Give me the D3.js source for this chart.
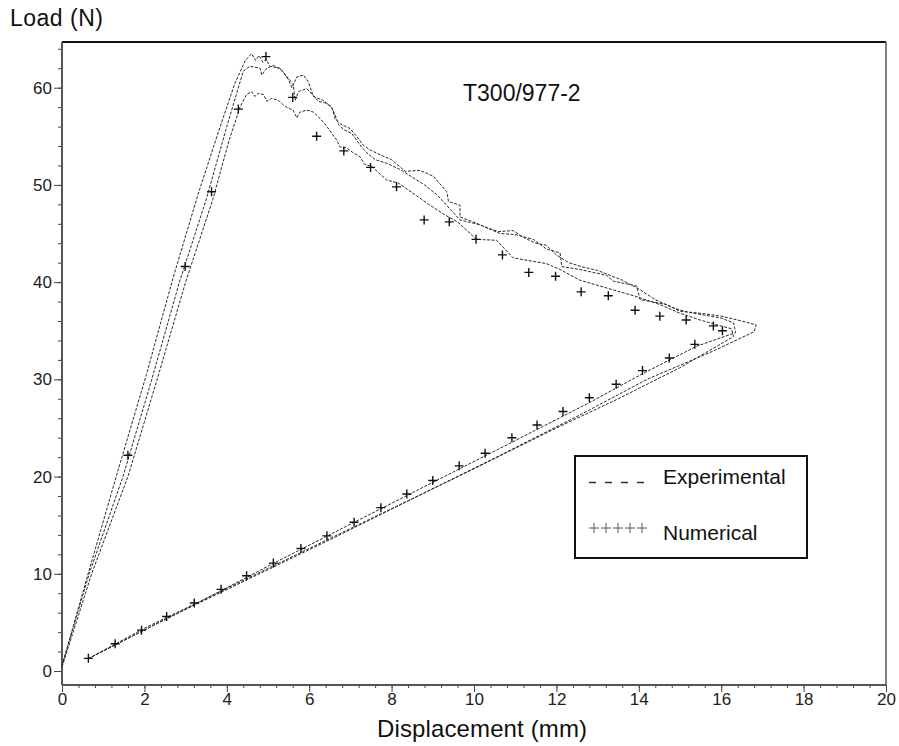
<!DOCTYPE html>
<html>

<head>
    <meta charset="utf-8">
    <title>T300/977-2 load displacement</title>
    <style>
        body {
            margin: 0;
            background: #fff;
        }

        svg {
            display: block;
            font-family: 'Liberation Sans', Arial, sans-serif;
        }

        .tick text {
            font-size: 17px;
            fill: #222;
        }

        .tick line {
            stroke: #444;
        }

        .exp-line {
            fill: none;
            stroke: #2a2a2a;
            stroke-width: 1;
            stroke-dasharray: 3, 1.5;
        }

        .num-mark {
            stroke: #111;
            stroke-width: 1.4;
        }
    </style>
</head>

<body>
    <svg width="899" height="746"></svg>
</body>
<script src="https://d3js.org/d3.v7.min.js"></script>

<script>

    // tick values
    let xTicks = [0, 2, 4, 6, 8, 10, 12, 14, 16, 18, 20];
    let yTicks = [0, 10, 20, 30, 40, 50, 60];

    // experimental specimen 1 (highest peak)
    let specimen1 = [
        [0, 0.5], [0.6, 9.5], [1.35, 20.5], [2.05, 30.5], [2.7, 40.5], [3.3, 49], [3.8, 55.5],
        [4.2, 60.5], [4.45, 62.8], [4.6, 63.5], [4.7, 62.8], [4.78, 63.3], [4.88, 62.6], [4.95, 62.9],
        [5.05, 62.2], [5.3, 62.0], [5.5, 60.8], [5.58, 60.0], [5.7, 61.1], [5.86, 61.3], [5.98, 60.6],
        [6.1, 59.1], [6.34, 58.7], [6.55, 58.0], [6.63, 56.8], [6.75, 56.3], [6.99, 55.8], [7.15, 55.0],
        [7.31, 54.1], [7.48, 53.6], [7.72, 53.1], [8.0, 52.6], [8.33, 51.4], [8.69, 51.5], [9.01, 50.9],
        [9.34, 49.3], [9.38, 48.3], [9.66, 47.9], [9.66, 46.7], [9.98, 46.2], [10.3, 45.6], [10.6, 45.2],
        [10.95, 45.3], [11.2, 44.6], [11.5, 44.0], [11.75, 43.8], [12.0, 42.8], [12.3, 42.0], [12.6, 41.6],
        [13.0, 41.2], [13.3, 40.7], [13.6, 40.2], [14.0, 39.3], [14.4, 38.2], [14.8, 37.4], [15.2, 36.9],
        [15.6, 36.6], [16.0, 36.3], [16.3, 35.8], [16.35, 34.8], [15.4, 33.4], [14.1, 30.6], [12.8, 27.6],
        [11.0, 23.7], [9.0, 19.4], [7.0, 15.1], [5.1, 11.0], [3.2, 6.8], [1.9, 4.0], [0.65, 1.3]
    ];

    // experimental specimen 2 (middle peak, furthest right)
    let specimen2 = [
        [0, 0.6], [0.66, 10], [1.48, 20], [2.18, 30], [2.85, 40], [3.5, 48.5], [4.0, 56], [4.4, 61.7],
        [4.56, 62.2], [4.81, 62.0], [4.85, 61.3], [4.97, 62.0], [5.13, 62.3], [5.33, 61.8], [5.49, 61.0],
        [5.61, 60.4], [5.66, 58.7], [5.74, 59.6], [5.94, 59.9], [6.10, 59.2], [6.22, 58.6], [6.42, 58.4],
        [6.55, 57.9], [6.63, 57.2], [6.71, 56.2], [6.83, 55.7], [7.03, 55.3], [7.15, 54.6], [7.27, 53.9],
        [7.40, 53.3], [7.6, 52.6], [7.9, 52.2], [8.2, 51.6], [8.5, 50.8], [8.8, 50.0], [9.1, 49.0],
        [9.4, 47.6], [9.66, 46.4], [10.15, 45.9], [10.63, 45.0], [10.99, 44.9], [11.44, 44.4], [11.76, 43.4],
        [12.09, 43.0], [12.13, 41.6], [12.57, 41.3], [13.22, 40.7], [13.38, 40.1], [13.95, 39.6], [14.03, 38.2],
        [14.68, 37.7], [15.0, 37.0], [15.49, 36.8], [16.0, 36.5], [16.5, 36.0], [16.85, 35.6], [16.8, 34.9],
        [15.8, 32.9], [14.2, 30.0], [12.6, 26.4], [10.5, 21.9], [8.5, 17.7], [6.5, 13.5], [4.5, 9.4],
        [2.5, 5.3], [0.7, 1.4]
    ];

    // experimental specimen 3 (lowest peak)
    let specimen3 = [
        [0, 0.4], [0.72, 10], [1.6, 20], [2.31, 30], [3.0, 40], [3.66, 48.5], [4.05, 54.5], [4.32, 58.0],
        [4.48, 59.3], [4.60, 59.6], [4.68, 59.1], [4.76, 59.4], [4.89, 59.3], [4.97, 58.6], [5.09, 58.9],
        [5.25, 58.7], [5.38, 58.2], [5.49, 57.9], [5.61, 57.7], [5.70, 56.9], [5.78, 57.5], [5.94, 57.7],
        [6.10, 57.5], [6.22, 57.0], [6.38, 56.3], [6.55, 55.3], [6.67, 54.6], [6.75, 53.9], [6.91, 53.8],
        [7.07, 53.3], [7.23, 52.9], [7.35, 52.1], [7.52, 51.9], [7.88, 50.5], [8.16, 50.2], [8.5, 49.2],
        [8.9, 48.0], [9.3, 46.9], [9.6, 46.2], [10.06, 44.4], [10.55, 44.3], [10.95, 42.5], [11.76, 41.9],
        [12.09, 41.3], [12.57, 40.2], [13.22, 39.4], [13.95, 38.5], [14.51, 37.7], [15.0, 36.8], [15.49, 36.1],
        [15.9, 35.6], [16.25, 35.2], [16.3, 34.4], [15.0, 31.2], [13.5, 28.0], [12.0, 25.0], [10.0, 20.8],
        [8.0, 16.7], [6.0, 12.6], [4.0, 8.5], [2.0, 4.4], [0.65, 1.3]
    ];

    // numerical prediction (+ markers)
    let numericalX = [1.60, 2.99, 3.63, 4.28, 4.95,
        5.60, 6.18, 6.84, 7.49, 8.12, 8.79, 9.40, 10.05, 10.69, 11.33, 11.98, 12.60, 13.26, 13.91, 14.51, 15.15, 15.81, 16.03,
        15.36, 14.74, 14.09, 13.45, 12.80, 12.16, 11.53, 10.92, 10.27, 9.64, 9.00, 8.37, 7.74, 7.09, 6.43, 5.80, 5.13, 4.48, 3.86, 3.21, 2.54, 1.93, 1.29, 0.64];
    let numericalY = [22.2, 41.6, 49.3, 57.8, 63.2,
        59.0, 55.0, 53.5, 51.8, 49.8, 46.4, 46.2, 44.4, 42.8, 41.0, 40.6, 39.0, 38.6, 37.1, 36.5, 36.1, 35.5, 35.0,
        33.6, 32.2, 30.9, 29.5, 28.1, 26.7, 25.3, 24.0, 22.4, 21.1, 19.6, 18.2, 16.8, 15.3, 13.9, 12.6, 11.1, 9.8, 8.4, 7.0, 5.6, 4.2, 2.8, 1.3];

    let svg = d3.select('svg');

    let plot = { left: 62, right: 886, top: 42, bottom: 685 };

    let x = d3.scaleLinear()
        .domain([0, 20])
        .range([plot.left, plot.right]);

    let y = d3.scaleLinear()
        .domain([-1.44, 64.7])
        .range([plot.bottom, plot.top]);

    // minor ticks first so majors sit on top
    let xMinor = d3.range(0, 20.01, 0.4);
    let yMinor = d3.range(0, 64.1, 2);

    svg.append('g')
        .attr('transform', `translate(0,${plot.bottom})`)
        .call(d3.axisBottom(x).tickValues(xMinor).tickSize(3).tickFormat(''))
        .call(g => g.select('.domain').remove());

    svg.append('g')
        .attr('transform', `translate(${plot.left},0)`)
        .call(d3.axisLeft(y).tickValues(yMinor).tickSize(4).tickFormat(''))
        .call(g => g.select('.domain').remove());

    svg.append('g')
        .attr('class', 'x axis')
        .attr('transform', `translate(0,${plot.bottom})`)
        .call(d3.axisBottom(x).tickValues(xTicks).tickSize(7).tickPadding(1).tickFormat(d3.format('d')))
        .call(g => g.select('.domain').remove());

    svg.append('g')
        .attr('class', 'y axis')
        .attr('transform', `translate(${plot.left},0)`)
        .call(d3.axisLeft(y).tickValues(yTicks).tickSize(8).tickPadding(2).tickFormat(d3.format('d')))
        .call(g => g.select('.domain').remove());

    // frame
    svg.append('line')
        .attr('x1', plot.left).attr('x2', plot.right)
        .attr('y1', plot.top).attr('y2', plot.top)
        .attr('stroke', '#111').attr('stroke-width', 2);
    svg.append('line')
        .attr('x1', plot.right).attr('x2', plot.right)
        .attr('y1', plot.top).attr('y2', plot.bottom)
        .attr('stroke', '#555').attr('stroke-width', 1.5);
    svg.append('line')
        .attr('x1', plot.left).attr('x2', plot.left)
        .attr('y1', plot.top).attr('y2', plot.bottom)
        .attr('stroke', '#555').attr('stroke-width', 2);
    svg.append('line')
        .attr('x1', plot.left).attr('x2', plot.right)
        .attr('y1', plot.bottom).attr('y2', plot.bottom)
        .attr('stroke', '#555').attr('stroke-width', 2);

    let line = d3.line()
        .x(d => x(d[0]))
        .y(d => y(d[1]));

    svg.append('g')
        .selectAll('path')
        .data([specimen1, specimen2, specimen3])
        .join('path')
        .attr('class', 'exp-line')
        .attr('d', line);

    let plusPath = r => `M${-r},0H${r}M0,${-r}V${r}`;

    svg.append('g')
        .selectAll('path')
        .data(numericalX.map((v, i) => [v, numericalY[i]]))
        .join('path')
        .attr('class', 'num-mark')
        .attr('transform', d => `translate(${x(d[0])},${y(d[1])})`)
        .attr('d', plusPath(4.5));

    // titles
    svg.append('text')
        .attr('x', 10)
        .attr('y', 26)
        .attr('font-size', 23)
        .attr('fill', '#111')
        .attr('textLength', 93)
        .text('Load (N)');

    svg.append('text')
        .attr('x', 377)
        .attr('y', 737)
        .attr('font-size', 24)
        .attr('fill', '#111')
        .attr('textLength', 210)
        .text('Displacement (mm)');

    svg.append('text')
        .attr('x', 463)
        .attr('y', 101)
        .attr('font-size', 23)
        .attr('fill', '#111')
        .text('T300/977-2');

    // legend
    let legend = svg.append('g');

    legend.append('rect')
        .attr('x', 575)
        .attr('y', 456)
        .attr('width', 232)
        .attr('height', 102)
        .attr('fill', '#fff')
        .attr('stroke', '#111')
        .attr('stroke-width', 2);

    legend.append('line')
        .attr('x1', 589).attr('x2', 648)
        .attr('y1', 482.5).attr('y2', 482.5)
        .attr('stroke', '#333')
        .attr('stroke-width', 1.6)
        .attr('stroke-dasharray', '7,9');

    legend.append('text')
        .attr('x', 663)
        .attr('y', 484)
        .attr('font-size', 21)
        .attr('fill', '#111')
        .text('Experimental');

    legend.selectAll('.leg-plus')
        .data([0, 1, 2, 3, 4])
        .join('path')
        .attr('class', 'leg-plus')
        .attr('transform', i => `translate(${594 + i * 12},528)`)
        .attr('d', plusPath(5))
        .attr('stroke', '#555')
        .attr('stroke-width', 1);

    legend.append('text')
        .attr('x', 663)
        .attr('y', 540)
        .attr('font-size', 21)
        .attr('fill', '#111')
        .text('Numerical');

</script>

</html>
